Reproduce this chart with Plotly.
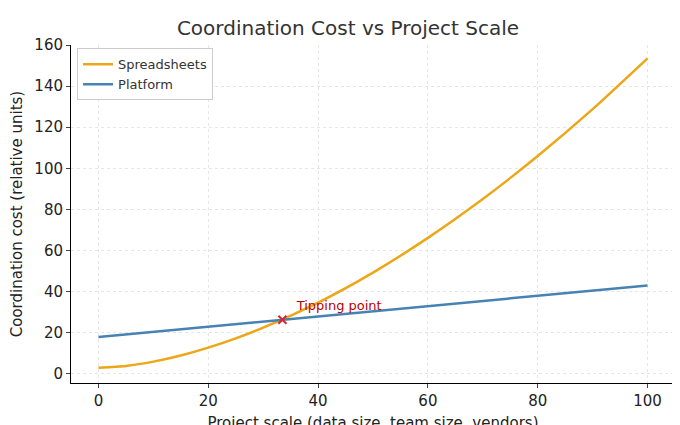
import plotly.graph_objects as go

# values
scale = [0, 5, 10, 15, 20, 25, 30, 40, 50, 60, 70, 80, 90, 100]
spreadsheets = [3.0, 3.9, 6.0, 9.0, 12.8, 17.3, 22.5, 34.7, 49.3, 66.2, 85.1, 106.0, 128.8, 153.5]
platform_x = [0, 100]
platform = [18.0, 43.0]
tip_x = [33.5]
tip_y = [26.4]

fig = go.Figure()
fig.add_trace(go.Scatter(x=scale, y=spreadsheets, mode='lines', name='Spreadsheets',
                         line=dict(color='#EDA618', width=2.5, shape='spline', smoothing=0.6)))
fig.add_trace(go.Scatter(x=platform_x, y=platform, mode='lines', name='Platform',
                         line=dict(color='#4682B4', width=2.5)))
fig.add_trace(go.Scatter(x=tip_x, y=tip_y, mode='markers+text', showlegend=False,
                         marker=dict(symbol='x-thin', size=8, line=dict(color='#D62728', width=2)),
                         text=['  Tipping point'], textposition='top right',
                         textfont=dict(color='#C00000', size=13)))

axis = dict(showline=True, linecolor='black', linewidth=1, ticks='outside', ticklen=4,
            showgrid=True, gridcolor='#E6E6E6', griddash='dot', zeroline=False,
            automargin=False, tickfont=dict(size=15, color='#222'))

fig.update_layout(
    width=680, height=425,
    font=dict(family='DejaVu Sans'),
    title=dict(text='Coordination Cost vs Project Scale', x=0.5, xanchor='center',
               y=0.97, font=dict(size=20, color='#333')),
    xaxis=dict(axis, range=[-5, 105], tickvals=[0, 20, 40, 60, 80, 100],
               title=dict(text='Project scale (data size, team size, vendors)',
                          font=dict(size=15, color='#222'), standoff=8)),
    yaxis=dict(axis, range=[-4.4, 160], tickvals=[0, 20, 40, 60, 80, 100, 120, 140, 160],
               title=dict(text='Coordination cost (relative units)',
                          font=dict(size=15, color='#222'), standoff=8)),
    legend=dict(x=0.01, y=0.99, xanchor='left', yanchor='top', bgcolor='white',
                bordercolor='#CCC', borderwidth=1, font=dict(size=13, color='#333')),
    plot_bgcolor='white', paper_bgcolor='white',
    margin=dict(l=63, r=13, t=37, b=50),
)

fig.write_html("out.html")
